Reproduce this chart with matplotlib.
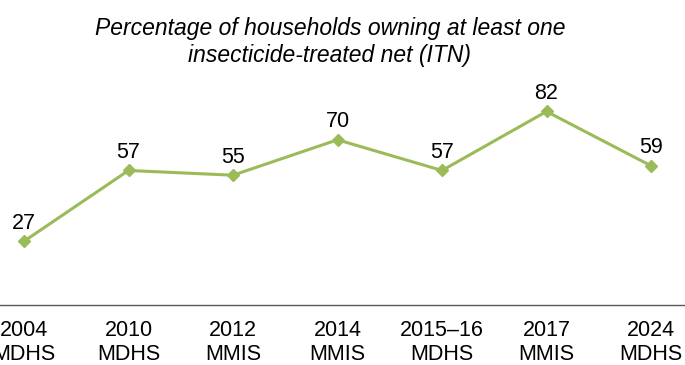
import matplotlib
matplotlib.use("Agg")
import matplotlib.pyplot as plt

surveys = ["2004\nMDHS", "2010\nMDHS", "2012\nMMIS", "2014\nMMIS",
           "2015\u201316\nMDHS", "2017\nMMIS", "2024\nMDHS"]
itn_pct = [27, 57, 55, 70, 57, 82, 59]

GREEN = "#9bbb59"
plt.rcParams["font.family"] = ["Liberation Sans", "DejaVu Sans"]

W, H = 685, 365
fig = plt.figure(figsize=(W / 100, H / 100), dpi=100)
# axes extend past the left/right figure edge, as in the source
x0, step = 24, 104.5
left = x0 - step / 2
ax = fig.add_axes([left / W, (H - 305) / H, 7 * step / W, 236 / H])

xs = range(len(itn_pct))
ax.plot(xs, itn_pct, color=GREEN, lw=2.2, marker="D", ms=6, mec=GREEN, mfc=GREEN)
for x, v in zip(xs, itn_pct):
    ax.annotate(f"{v}", (x, v), xytext=(0, 5.5), textcoords="offset points",
                ha="center", va="bottom", fontsize=15.5)

ax.set_xlim(-0.5, 6.5)
ax.set_ylim(0, 100)
ax.set_xticks(list(xs))
ax.set_xticklabels(surveys, fontsize=15.5, linespacing=1.18)
ax.tick_params(axis="x", length=0, pad=11)
ax.set_yticks([])
for s in ["top", "left", "right"]:
    ax.spines[s].set_visible(False)
ax.spines["bottom"].set_color("#595959")
ax.spines["bottom"].set_linewidth(1)

fig.text(330 / W, 1 - 42 / H,
         "Percentage of households owning at least one\ninsecticide-treated net (ITN)",
         ha="center", va="center", fontsize=16.5, style="italic", linespacing=1.25)

fig.savefig("out.png", dpi=100)
